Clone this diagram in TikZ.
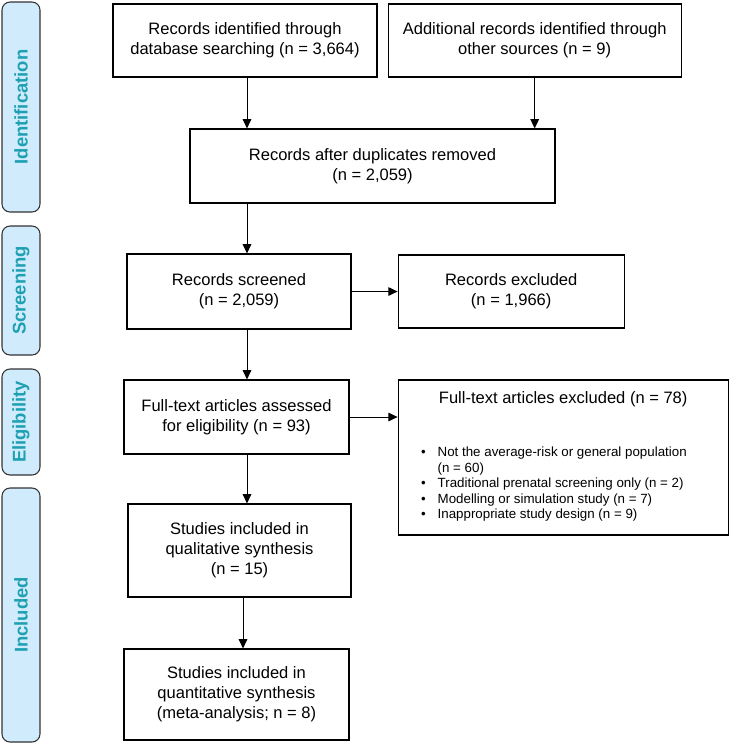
\documentclass[tikz,border=0pt]{standalone}
\usepackage{fontspec}
\setmainfont{Liberation Sans}
\usetikzlibrary{arrows.meta,positioning}
\definecolor{barfill}{RGB}{208,236,252}
\definecolor{bartext}{RGB}{30,160,178}
\definecolor{barline}{RGB}{50,50,50}
\newcommand{\exclitems}{%
  {\fontsize{10}{11.6}\selectfont
  \begin{tabular}{@{}l@{\hspace{9pt}}l@{}}
    \textbullet & Not the average-risk or general population\\
                & (n = 60)\\
    \textbullet & Traditional prenatal screening only (n = 2)\\
    \textbullet & Modelling or simulation study (n = 7)\\
    \textbullet & Inappropriate study design (n = 9)
  \end{tabular}}}

\begin{document}
\begin{tikzpicture}[
      x=0.75pt, y=-0.75pt,
      box/.style={draw, line width=0.9pt, align=center, inner sep=2pt, font=\fontsize{12.4}{15}\selectfont},
      phase/.style={draw=barline, line width=0.8pt, fill=barfill, rounded corners=6pt, rotate=90,
                    minimum height=28.5pt, text=bartext, font=\fontsize{13.8}{15}\selectfont\bfseries},
      >={Triangle[length=7pt,width=6.5pt]}
    ]
    \useasboundingbox (0,0) rectangle (731,744);
    % Phase bars
    \node[phase, minimum width=157.5pt] (ident) at (21,107) {Identification};
    \node[phase, minimum width=96.75pt] (screen) at (21,290.5) {Screening};
    \node[phase, minimum width=79.5pt] (elig) at (21,422) {Eligibility};
    \node[phase, minimum width=190.5pt] (incl) at (21,615) {Included};

    % Boxes
    \node[box, minimum width=198pt, minimum height=54.75pt] (db) at (245,40.5) {Records identified through\\database searching (n = 3,664)};
    \node[box, minimum width=219.75pt, minimum height=54.75pt, right=7.5pt of db] (other) {Additional records identified through\\other sources (n = 9)};
    \node[box, minimum width=273.75pt, minimum height=55.5pt] (dup) at (372.5,166) {Records after duplicates removed\\(n = 2,059)};
    \node[box, minimum width=168pt, minimum height=56.25pt] (screened) at (239,291.5) {Records screened\\(n = 2,059)};
    \node[box, minimum width=169.5pt, minimum height=54.75pt, right=34.5pt of screened] (excl) {Records excluded\\(n = 1,966)};
    \node[box, minimum width=168.75pt, minimum height=55.5pt] (fulltext) at (236.5,417) {Full-text articles assessed\\for eligibility (n = 93)};
    \node[box, minimum width=247.5pt, minimum height=116.25pt, right=36pt of fulltext.north east, anchor=north west] (ftexcl)
      {Full-text articles excluded (n = 78)\\[28pt]\hspace*{-14pt}\exclitems};
    \node[box, minimum width=167.25pt, minimum height=69.75pt] (qual) at (239.5,550.5) {Studies included in\\qualitative synthesis\\(n = 15)};
    \node[box, minimum width=168.75pt, minimum height=68.25pt] (quant) at (236.5,694.5) {Studies included in\\quantitative synthesis\\(meta-analysis; n = 8)};

    % Arrow column
    \coordinate (col) at (247,0);

    % Arrows
    \draw[->, line width=0.75pt] (db.south -| col) -- (dup.north -| col);
    \draw[->, line width=0.75pt] (other.south) -- (other.south |- dup.north);
    \draw[->, line width=0.75pt] (dup.south -| col) -- (screened.north -| col);
    \draw[->, line width=0.75pt] (screened) -- (excl);
    \draw[->, line width=0.75pt] (screened.south -| col) -- (fulltext.north -| col);
    \draw[->, line width=0.75pt] (fulltext.east) -- (fulltext.east -| ftexcl.west);
    \draw[->, line width=0.75pt] (fulltext.south -| col) -- (qual.north -| col);
    \draw[->, line width=0.75pt] ([xshift=-3pt]qual.south -| col) -- ([xshift=-3pt]quant.north -| col);
  \end{tikzpicture}
\end{document}
